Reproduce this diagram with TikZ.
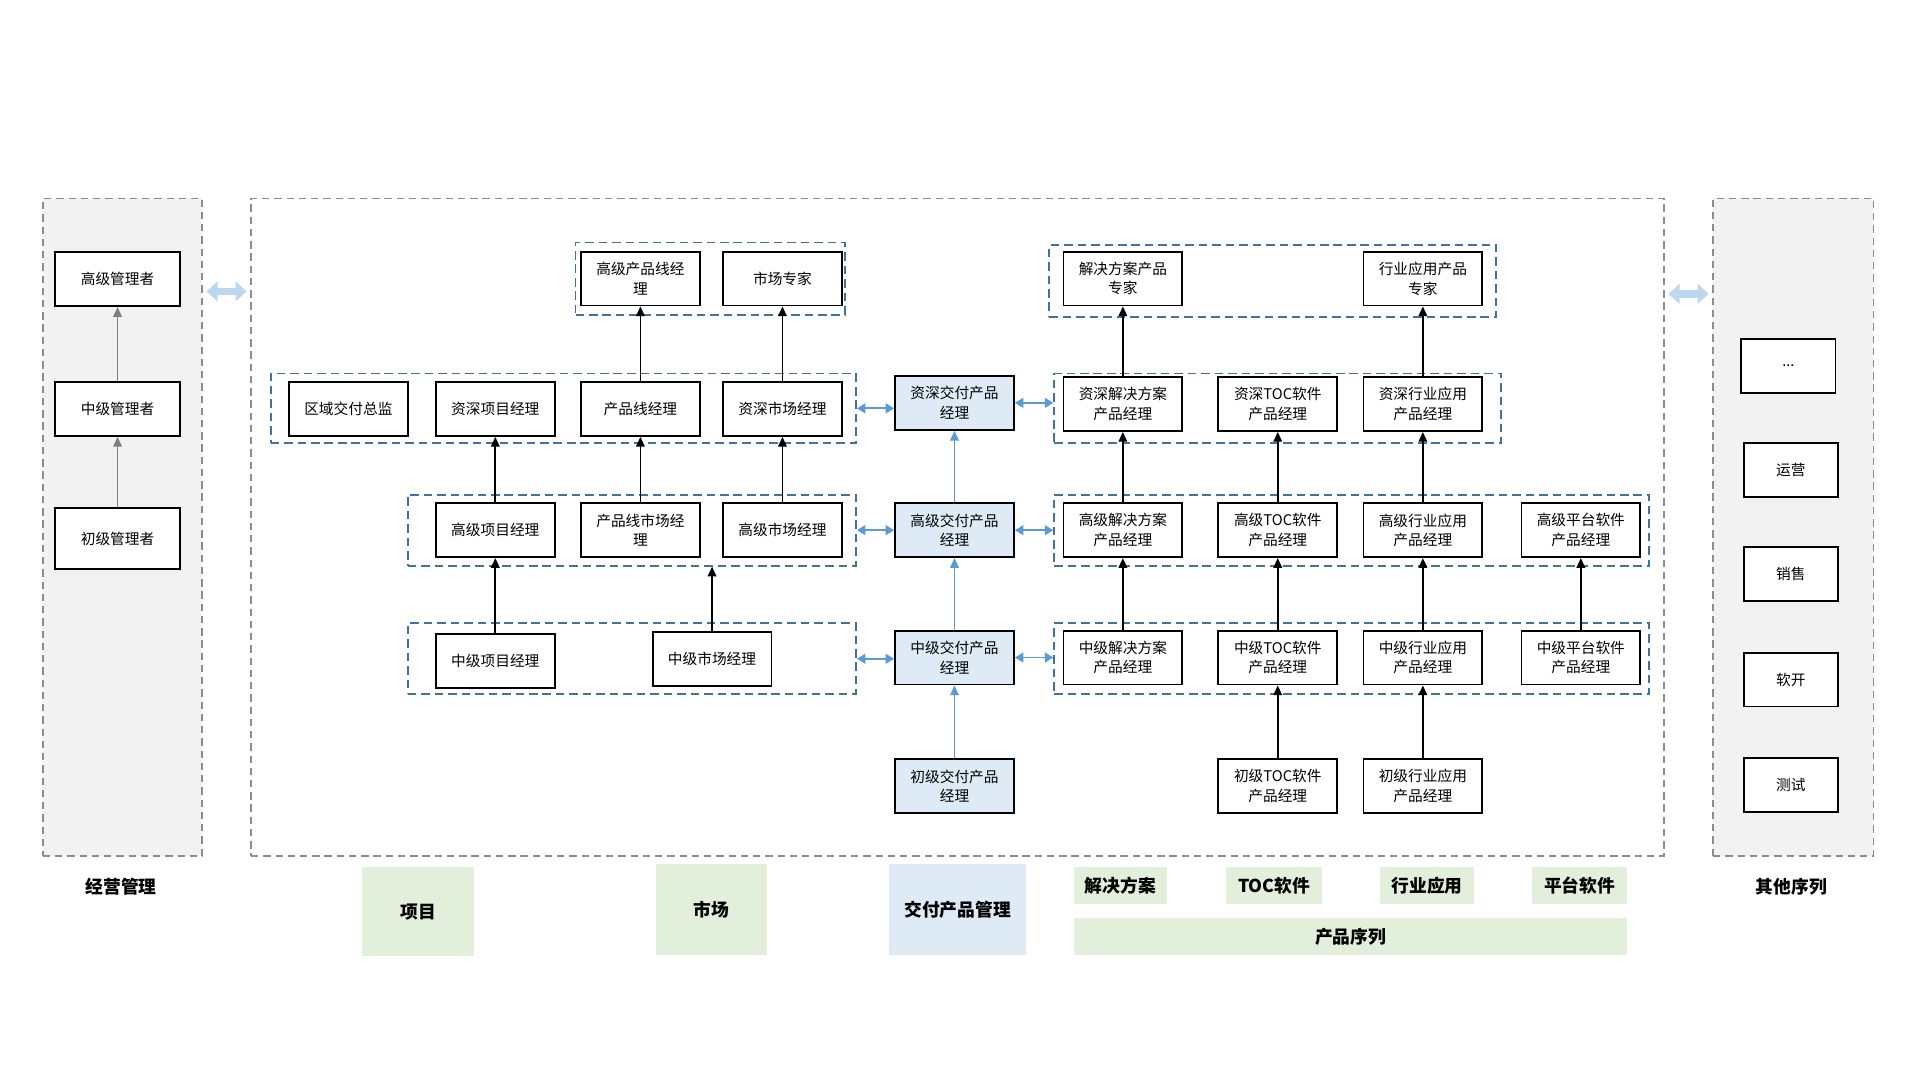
\documentclass[tikz,border=0pt]{standalone}
\usepackage{fontspec}
\newfontfamily\cjk{Noto Sans CJK SC}
\usetikzlibrary{arrows.meta}
\definecolor{panelgray}{HTML}{F2F2F2}
\definecolor{dashgray}{HTML}{8C8C8C}
\definecolor{arrgray}{HTML}{7F7F7F}
\definecolor{grpblue}{HTML}{41719C}
\definecolor{arrblue}{HTML}{5B9BD5}
\definecolor{lightblue}{HTML}{DEEBF7}
\definecolor{blockblue}{HTML}{BDD7EE}
\definecolor{lightgreen}{HTML}{E2EFDA}
\begin{document}
\begin{tikzpicture}[x=1pt,y=-1pt,
  box/.style={draw=black, line width=1.5pt, fill=white, minimum width=97pt, minimum height=44pt, inner sep=0pt, align=center, font=\cjk\fontsize{12}{16}\selectfont},
  dbox/.style={box, fill=lightblue},
  sbox/.style={box, minimum width=77pt},
  grp/.style={draw=grpblue, line width=1.5pt, dash pattern=on 7pt off 4pt, inner sep=0pt},
  panel/.style={draw=dashgray, line width=1.3pt, dash pattern=on 6pt off 4pt, inner sep=0pt, minimum height=537pt},
  up/.style={-{Triangle[length=8pt,width=7pt]}, line width=1.4pt, color=black},
  gup/.style={up, color=arrgray},
  bup/.style={up, color=arrblue},
  dbl/.style={{Triangle[length=7pt,width=8pt]}-{Triangle[length=7pt,width=8pt]}, line width=1.5pt, color=arrblue},
  block/.style={{Triangle[length=9pt,width=16pt]}-{Triangle[length=9pt,width=16pt]}, line width=6pt, color=blockblue, shorten <=3pt, shorten >=3pt},
  lab/.style={font=\cjk\bfseries\fontsize{14.5}{17}\selectfont, inner sep=0pt},
]
\useasboundingbox (0,0) rectangle (1568,882);

% panels
\node[panel, fill=panelgray, minimum width=130pt] (Lp) at (100,430.5) {};
\node[panel, fill=white, minimum width=1154pt] (Cp) at (782,430.5) {};
\node[panel, fill=panelgray, minimum width=131pt] (Rp) at (1464.5,430.5) {};

% block arrows between panels
\draw[block] (Lp.east |- 0,238) -- (Cp.west |- 0,238);
\draw[block] (Cp.east |- 0,240) -- (Rp.west |- 0,240);

% left panel
\node[box, minimum width=102pt] (m3) at (96,228) {高级管理者};
\node[box, minimum width=102pt] (m2) at (96,334) {中级管理者};
\node[box, minimum width=102pt, minimum height=50pt] (m1) at (96,440) {初级管理者};
\draw[gup] (m1.north) -- (m2.south);
\draw[gup] (m2.north) -- (m3.south);

% right panel
\node[sbox] (o0) at (1460.5,299) {...};
\node[sbox] (o1) at (1462.5,384) {运营};
\node[sbox] (o2) at (1462.5,469) {销售};
\node[sbox] (o3) at (1462.5,555) {软开};
\node[sbox] (o4) at (1462.5,641) {测试};

% groups
\node[grp, minimum width=220pt, minimum height=59pt] (gA) at (580,227.5) {};
\node[grp, minimum width=478pt, minimum height=57pt] (gB) at (460,333.5) {};
\node[grp, minimum width=366pt, minimum height=58pt] (gC) at (516,433) {};
\node[grp, minimum width=366pt, minimum height=58pt] (gD) at (516,538) {};
\node[grp, minimum width=365pt, minimum height=59pt] (gE) at (1039.5,229.5) {};
\node[grp, minimum width=365pt, minimum height=57pt] (gF) at (1043.5,333.5) {};
\node[grp, minimum width=486pt, minimum height=58pt] (gG) at (1104,433) {};
\node[grp, minimum width=486pt, minimum height=58pt] (gH) at (1104,538) {};

% project / market boxes
\node[box] (plx) at (523,227.5) {高级产品线经\\理};
\node[box] (sczj) at (639,227.5) {市场专家};
\node[box] (qy) at (284.5,334) {区域交付总监};
\node[box] (zsxm) at (404.5,334) {资深项目经理};
\node[box] (cpx) at (523,334) {产品线经理};
\node[box] (zssc) at (639,334) {资深市场经理};
\node[box] (gjxm) at (404.5,433) {高级项目经理};
\node[box] (cpsc) at (523,433) {产品线市场经\\理};
\node[box] (gjsc) at (639,433) {高级市场经理};
\node[box] (zjxm) at (404.5,540) {中级项目经理};
\node[box] (zjsc) at (581.5,538) {中级市场经理};

\draw[up] (cpx.north) -- (plx.south);
\draw[up] (zssc.north) -- (sczj.south);
\draw[up] (gjxm.north) -- (zsxm.south);
\draw[up] (cpsc.north) -- (cpx.south);
\draw[up] (gjsc.north) -- (zssc.south);
\draw[up] (zjxm.north) -- (gjxm.south);
\draw[up] (zjsc.north) -- (zjsc.north |- gC.south);

% delivery column
\node[dbox] (d4) at (779.5,329) {资深交付产品\\经理};
\node[dbox] (d3) at (779.5,433) {高级交付产品\\经理};
\node[dbox] (d2) at (779.5,537) {中级交付产品\\经理};
\node[dbox] (d1) at (779.5,642) {初级交付产品\\经理};
\draw[bup] (d1.north) -- (d2.south);
\draw[bup] (d2.north) -- (d3.south);
\draw[bup] (d3.north) -- (d4.south);

\draw[dbl] (gB.east) -- (gB.east -| d4.west);
\draw[dbl] (gC.east) -- (gC.east -| d3.west);
\draw[dbl] (gD.east) -- (gD.east -| d2.west);
\draw[dbl] (d4.east) -- (d4.east -| gF.west);
\draw[dbl] (d3.east) -- (d3.east -| gG.west);
\draw[dbl] (d2.east) -- (d2.east -| gH.west);

% product boxes
\node[box] (jfzj) at (917,227.5) {解决方案产品\\专家};
\node[box] (hyzj) at (1162,227.5) {行业应用产品\\专家};
\node[box] (jf4) at (917,330) {资深解决方案\\产品经理};
\node[box] (toc4) at (1043.5,330) {资深TOC软件\\产品经理};
\node[box] (hy4) at (1162,330) {资深行业应用\\产品经理};
\node[box] (jf3) at (917,433) {高级解决方案\\产品经理};
\node[box] (toc3) at (1043.5,433) {高级TOC软件\\产品经理};
\node[box] (hy3) at (1162,433) {高级行业应用\\产品经理};
\node[box] (pt3) at (1291,433) {高级平台软件\\产品经理};
\node[box] (jf2) at (917,537) {中级解决方案\\产品经理};
\node[box] (toc2) at (1043.5,537) {中级TOC软件\\产品经理};
\node[box] (hy2) at (1162,537) {中级行业应用\\产品经理};
\node[box] (pt2) at (1291,537) {中级平台软件\\产品经理};
\node[box] (toc1) at (1043.5,642) {初级TOC软件\\产品经理};
\node[box] (hy1) at (1162,642) {初级行业应用\\产品经理};

\draw[up] (jf4.north) -- (jfzj.south);
\draw[up] (hy4.north) -- (hyzj.south);
\draw[up] (jf3.north) -- (jf4.south);
\draw[up] (toc3.north) -- (toc4.south);
\draw[up] (hy3.north) -- (hy4.south);
\draw[up] (jf2.north) -- (jf3.south);
\draw[up] (toc2.north) -- (toc3.south);
\draw[up] (hy2.north) -- (hy3.south);
\draw[up] (pt2.north) -- (pt3.south);
\draw[up] (toc1.north) -- (toc2.south);
\draw[up] (hy1.north) -- (hy2.south);

% bottom labels
\node[lab] (tJY) at (99,724) {经营管理};
\node[lab] (tQT) at (1463,724) {其他序列};
\node[lab, fill=lightgreen, minimum width=91pt, minimum height=73pt] (tXM) at (341.5,744.5) {项目};
\node[lab, fill=lightgreen, minimum width=90pt, minimum height=74pt] (tSC) at (581,743) {市场};
\node[lab, fill=lightblue, minimum width=112pt, minimum height=74pt] (tJF) at (782,743) {交付产品管理};
\node[lab, fill=lightgreen, minimum width=76pt, minimum height=30pt] (tJJ) at (915,723) {解决方案};
\node[lab, fill=lightgreen, minimum width=79pt, minimum height=30pt] (tTOC) at (1040.5,723) {TOC软件};
\node[lab, fill=lightgreen, minimum width=77pt, minimum height=30pt] (tHY) at (1165.5,723) {行业应用};
\node[lab, fill=lightgreen, minimum width=78pt, minimum height=30pt] (tPT) at (1290,723) {平台软件};
\node[lab, fill=lightgreen, minimum width=452pt, minimum height=30pt] (tCP) at (1103,765) {产品序列};
\end{tikzpicture}
\end{document}
